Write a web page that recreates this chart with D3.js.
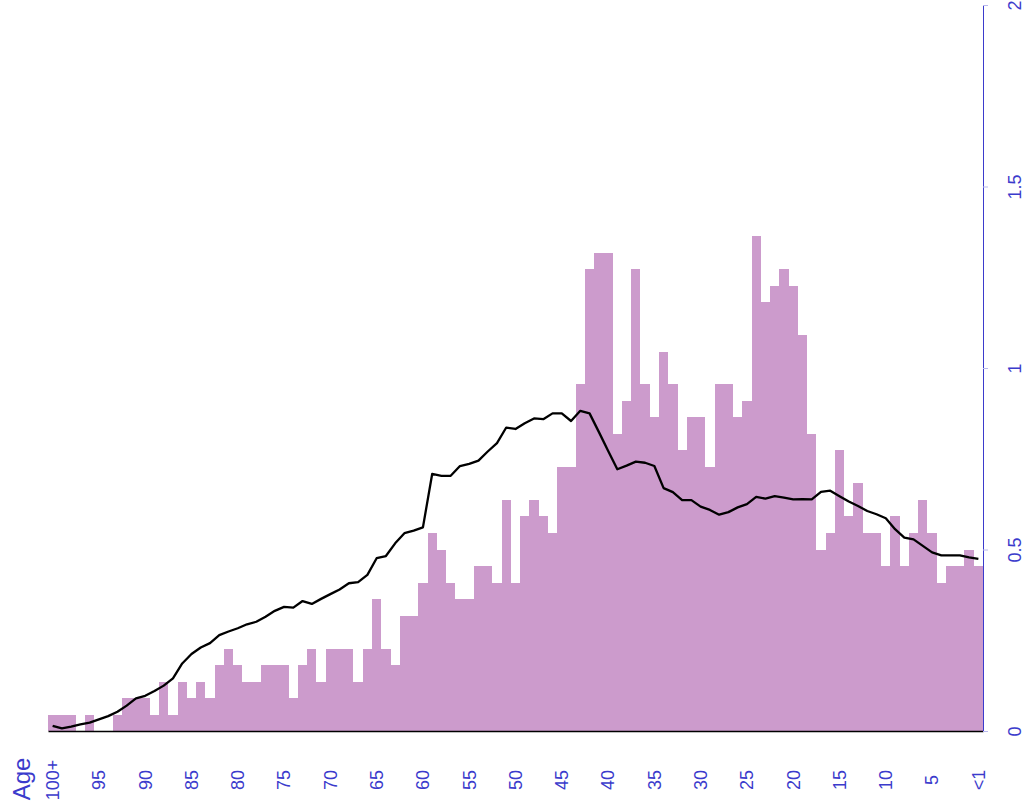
<!DOCTYPE html>
<html>
<head>
<meta charset="utf-8">
<script src="https://cdn.jsdelivr.net/npm/d3@7"></script>
<style>
  body { margin: 0; background: #fff; }
  text { font-family: "Liberation Sans", Arial, sans-serif; }
</style>
</head>
<body>
<svg id="chart" width="1024" height="812"></svg>
<script>
// age groups, oldest on the left
const ages = ["100+"].concat(d3.range(99, 0, -1).map(String), ["<1"]);
const tickAges = ["100+", "95", "90", "85", "80", "75", "70", "65", "60", "55", "50",
                  "45", "40", "35", "30", "25", "20", "15", "10", "5", "<1"];

// bar values (share by single year of age)
const barVals = [
  0.045, 0.045, 0.045, 0, 0.045, 0, 0, 0.045, 0.091, 0.091,
  0.091, 0.045, 0.136, 0.045, 0.136, 0.091, 0.136, 0.091, 0.182, 0.227,
  0.182, 0.136, 0.136, 0.182, 0.182, 0.182, 0.091, 0.182, 0.227, 0.136,
  0.227, 0.227, 0.227, 0.136, 0.227, 0.364, 0.227, 0.182, 0.318, 0.318,
  0.409, 0.545, 0.5, 0.409, 0.364, 0.364, 0.455, 0.455, 0.409, 0.636,
  0.409, 0.591, 0.636, 0.591, 0.545, 0.727, 0.727, 0.955, 1.273, 1.318,
  1.318, 0.818, 0.909, 1.273, 0.955, 0.864, 1.045, 0.955, 0.773, 0.864,
  0.864, 0.727, 0.955, 0.955, 0.864, 0.909, 1.364, 1.182, 1.227, 1.273,
  1.227, 1.091, 0.818, 0.5, 0.545, 0.773, 0.591, 0.682, 0.545, 0.545,
  0.455, 0.591, 0.455, 0.545, 0.636, 0.545, 0.409, 0.455, 0.455, 0.5,
  0.455
];

// comparison line
const lineVals = [
  0.014, 0.007, 0.012, 0.018, 0.023, 0.032, 0.041, 0.053, 0.07, 0.09,
  0.097, 0.11, 0.125, 0.145, 0.186, 0.212, 0.23, 0.242, 0.264, 0.274,
  0.283, 0.294, 0.301, 0.315, 0.331, 0.342, 0.34, 0.358, 0.35, 0.364,
  0.377, 0.39, 0.407, 0.41, 0.43, 0.476, 0.482, 0.517, 0.545, 0.552,
  0.561, 0.708, 0.703, 0.703, 0.73, 0.736, 0.745, 0.77, 0.793, 0.836,
  0.832, 0.848, 0.861, 0.859, 0.875, 0.875, 0.854, 0.882, 0.875, 0.824,
  0.772, 0.721, 0.731, 0.742, 0.739, 0.73, 0.669, 0.658, 0.636, 0.636,
  0.618, 0.609, 0.596, 0.603, 0.616, 0.625, 0.645, 0.64, 0.647, 0.643,
  0.638, 0.639, 0.638, 0.659, 0.662, 0.647, 0.632, 0.62, 0.606, 0.597,
  0.586, 0.556, 0.533, 0.528, 0.51, 0.492, 0.484, 0.484, 0.484, 0.478,
  0.474
];

const yTicks = [0, 0.5, 1, 1.5, 2];

const svg = d3.select('#chart');
const margin = {top: 5, right: 41, bottom: 81, left: 48};
const width = 1024 - margin.left - margin.right;
const height = 812 - margin.top - margin.bottom;
const blue = '#3b3bcc';

const g = svg.append('g')
    .attr('transform', `translate(${margin.left},${margin.top})`);

const x = d3.scaleBand().domain(ages).range([0, width]).padding(0);
const y = d3.scaleLinear().domain([0, 2]).range([height, 0]);

// bars
g.append('g')
  .selectAll('rect')
  .data(barVals)
  .join('rect')
    .attr('x', (d, i) => x(ages[i]))
    .attr('y', d => y(d))
    .attr('width', x.bandwidth())
    .attr('height', d => y(0) - y(d))
    .attr('fill', '#cc9bcc')
    .attr('shape-rendering', 'crispEdges');

// line
const line = d3.line()
    .x((d, i) => x(ages[i]) + x.bandwidth() / 2)
    .y(d => y(d));

g.append('path')
  .datum(lineVals)
  .attr('d', line)
  .attr('fill', 'none')
  .attr('stroke', '#000')
  .attr('stroke-width', 2.3)
  .attr('stroke-linejoin', 'round');

// bottom axis: black baseline + rotated labels
const xAxis = g.append('g')
  .attr('transform', `translate(0,${height})`)
  .call(d3.axisBottom(x).tickValues(tickAges).tickSize(0).tickSizeOuter(0));
xAxis.select('.domain').attr('stroke', '#000').attr('stroke-width', 1.5);
xAxis.selectAll('text')
  .attr('transform', 'translate(0,49) rotate(-90)')
  .attr('y', 0)
  .attr('dy', '0.35em')
  .attr('text-anchor', 'middle')
  .attr('fill', blue)
  .style('font-size', '18px');

// right axis
const yAxis = g.append('g')
  .attr('transform', `translate(${width},0)`)
  .call(d3.axisRight(y).tickValues(yTicks).tickFormat(d => String(d)).tickSize(5).tickSizeOuter(0));
yAxis.select('.domain').attr('stroke', blue);
yAxis.selectAll('.tick line').attr('stroke', '#b8b8ee');
yAxis.selectAll('text')
  .attr('x', 0)
  .attr('dy', '0.35em')
  .attr('transform', 'translate(32,0) rotate(-90)')
  .attr('text-anchor', 'middle')
  .attr('fill', blue)
  .style('font-size', '18px');

// "Age" title
svg.append('text')
  .attr('transform', 'translate(22,779) rotate(-90)')
  .attr('dy', '0.35em')
  .attr('text-anchor', 'middle')
  .attr('fill', blue)
  .style('font-size', '24px')
  .text('Age');
</script>
</body>
</html>
